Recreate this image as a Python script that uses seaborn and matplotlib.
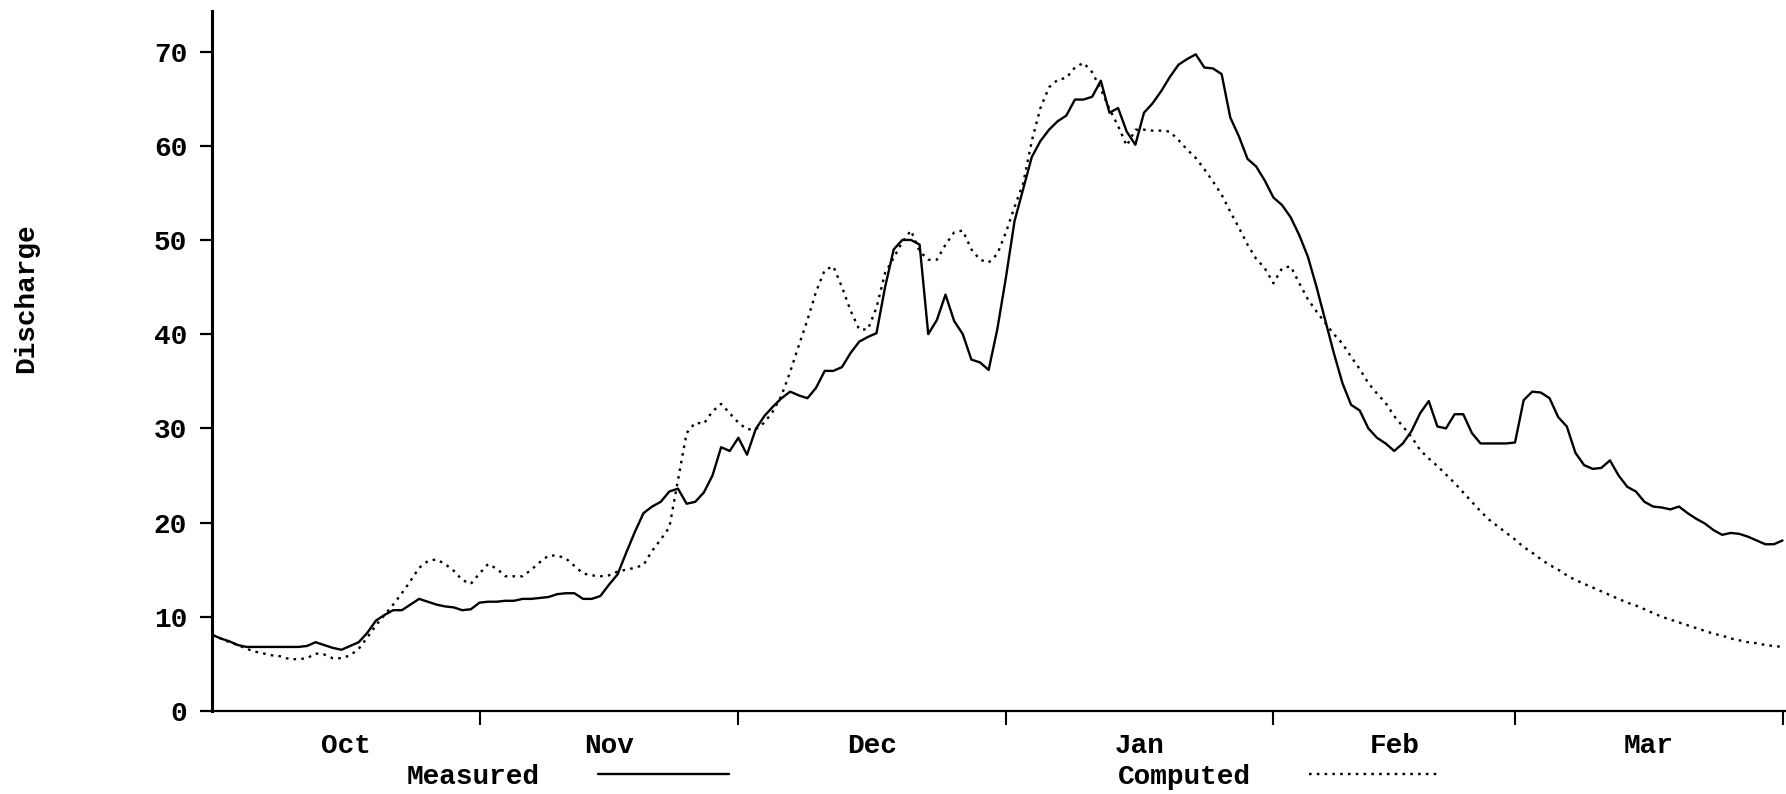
import numpy as np
import pandas as pd
import matplotlib
matplotlib.use("Agg")
import matplotlib.pyplot as plt
import matplotlib.dates as mdates
from matplotlib.ticker import FixedLocator, FixedFormatter, NullFormatter
import seaborn as sns

# ---------------- data ----------------
start_date = "2001-10-01"
month_labels = ["Oct", "Nov", "Dec", "Jan", "Feb", "Mar"]
y_ticks = [0, 10, 20, 30, 40, 50, 60, 70]

measured = [
    8.1, 7.7, 7.4, 7.0, 6.8, 6.8, 6.8, 6.8, 6.8, 6.8,
    6.8, 6.9, 7.3, 7.0, 6.7, 6.5, 6.9, 7.3, 8.3, 9.6,
    10.2, 10.7, 10.7, 11.3, 11.9, 11.6, 11.3, 11.1, 11.0, 10.7,
    10.8, 11.5, 11.6, 11.6, 11.7, 11.7, 11.9, 11.9, 12.0, 12.1,
    12.4, 12.5, 12.5, 11.9, 11.9, 12.2, 13.4, 14.5, 16.8, 19.0,
    21.0, 21.7, 22.2, 23.3, 23.6, 22.0, 22.2, 23.2, 25.0, 28.0,
    27.6, 29.0, 27.2, 29.9, 31.3, 32.3, 33.2, 33.9, 33.5, 33.2,
    34.3, 36.1, 36.1, 36.5, 38.0, 39.2, 39.7, 40.1, 45.0, 49.0,
    50.0, 50.0, 49.5, 40.0, 41.5, 44.2, 41.4, 40.0, 37.3, 37.0,
    36.2, 40.5, 46.0, 52.0, 55.4, 58.8, 60.5, 61.7, 62.6, 63.2,
    64.9, 64.9, 65.2, 66.9, 63.5, 64.0, 61.5, 60.1, 63.5, 64.5,
    65.8, 67.3, 68.6, 69.2, 69.7, 68.3, 68.2, 67.6, 63.0, 61.0,
    58.6, 57.8, 56.3, 54.5, 53.7, 52.4, 50.5, 48.2, 45.0, 41.5,
    38.0, 34.8, 32.5, 31.9, 30.0, 29.0, 28.4, 27.6, 28.4, 29.7,
    31.6, 32.9, 30.2, 30.0, 31.5, 31.5, 29.5, 28.4, 28.4, 28.4,
    28.4, 28.5, 33.0, 33.9, 33.8, 33.2, 31.2, 30.2, 27.4, 26.1,
    25.7, 25.8, 26.6, 25.0, 23.8, 23.3, 22.2, 21.7, 21.6, 21.4,
    21.7, 21.0, 20.4, 19.9, 19.2, 18.7, 18.9, 18.8, 18.5, 18.1,
    17.7, 17.7, 18.1,
]

computed = [
    8.1, 7.7, 7.3, 7.0, 6.6, 6.3, 6.1, 5.9, 5.8, 5.5,
    5.5, 5.6, 6.1, 6.0, 5.6, 5.6, 5.9, 6.6, 7.8, 9.1,
    10.2, 11.3, 12.5, 13.8, 15.2, 15.9, 16.1, 15.6, 14.9, 13.9,
    13.5, 14.6, 15.6, 15.1, 14.3, 14.3, 14.3, 15.0, 15.8, 16.5,
    16.5, 16.2, 15.4, 14.6, 14.4, 14.3, 14.4, 14.8, 15.0, 15.2,
    15.5, 17.0, 18.2, 19.5, 24.5, 29.5, 30.6, 30.5, 31.8, 32.6,
    31.6, 30.6, 29.9, 29.9, 30.6, 31.8, 33.5, 36.0, 38.8, 41.5,
    44.5, 46.8, 47.2, 45.0, 42.5, 40.5, 40.5, 42.8, 46.5, 48.1,
    49.8, 51.0, 48.8, 47.9, 47.9, 49.5, 50.8, 51.0, 49.0, 47.9,
    47.6, 48.5, 50.8, 53.5, 56.0, 60.5, 64.0, 66.2, 67.0, 67.2,
    68.3, 68.8, 67.8, 66.0, 63.9, 62.1, 60.0, 61.7, 61.7, 61.6,
    61.6, 61.5, 60.6, 59.6, 58.7, 57.5, 56.2, 54.8, 53.0, 51.3,
    49.5, 48.0, 47.0, 45.4, 47.0, 47.2, 45.4, 43.7, 42.4, 41.2,
    40.0, 39.0, 37.6, 36.3, 34.8, 33.7, 32.7, 31.3, 30.2, 29.1,
    27.7, 26.8, 26.0, 25.1, 24.2, 23.2, 22.2, 21.2, 20.3, 19.6,
    18.9, 18.2, 17.4, 16.8, 16.1, 15.5, 15.0, 14.4, 13.9, 13.5,
    13.1, 12.7, 12.3, 11.9, 11.5, 11.2, 10.8, 10.4, 10.0, 9.7,
    9.4, 9.1, 8.8, 8.5, 8.2, 8.0, 7.7, 7.5, 7.3, 7.2,
    7.0, 6.9, 6.8,
]

dates = pd.date_range(start_date, periods=len(measured), freq="D")
df = pd.DataFrame({"date": dates, "Measured": measured, "Computed": computed})

# ---------------- style ----------------
sns.set_style("ticks")
plt.rcParams["font.family"] = ["Liberation Mono", "DejaVu Sans Mono"]
plt.rcParams["font.weight"] = "bold"
plt.rcParams["text.color"] = "black"
FS = 20

fig = plt.figure(figsize=(17.86, 7.94), dpi=100)
fig.patch.set_facecolor("white")
ax = fig.add_axes([212 / 1786, 83 / 794, 1574 / 1786, 700 / 794])
ax.set_facecolor("white")

sns.lineplot(data=df, x="date", y="Measured", ax=ax, color="black",
             linewidth=1.7, label="Measured", legend=False)
sns.lineplot(data=df, x="date", y="Computed", ax=ax, color="black",
             linewidth=1.7, linestyle=(0, (1.1, 2.2)), label="Computed",
             legend=False)

# axes limits
t0 = pd.Timestamp(start_date)
ax.set_xlim(t0, t0 + pd.Timedelta(days=182.4))
ax.set_ylim(0, 74.3)

# spines
sns.despine(ax=ax, top=True, right=True)
ax.spines["left"].set_linewidth(2.2)
ax.spines["bottom"].set_linewidth(1.6)
ax.spines["left"].set_color("black")
ax.spines["bottom"].set_color("black")

# x ticks: boundaries (no labels) + centred month names
month_starts = pd.date_range(start_date, periods=len(month_labels) + 1, freq="MS")
starts_num = mdates.date2num(month_starts)
centers = (starts_num[:-1] + starts_num[1:]) / 2.0
ax.xaxis.set_major_locator(FixedLocator(starts_num[1:]))
ax.xaxis.set_major_formatter(NullFormatter())
ax.xaxis.set_minor_locator(FixedLocator(centers))
ax.xaxis.set_minor_formatter(FixedFormatter(month_labels))
ax.tick_params(axis="x", which="major", length=10, width=1.5,
               direction="out", color="black")
ax.tick_params(axis="x", which="minor", length=0, pad=16, labelsize=FS,
               labelcolor="black")

ax.set_yticks(y_ticks)
ax.set_yticklabels([str(v) for v in y_ticks])
ax.tick_params(axis="y", which="major", length=9, width=1.6,
               direction="out", pad=9, labelsize=FS, color="black",
               labelcolor="black")

ax.set_xlabel("")
ax.set_ylabel("Discharge", fontsize=FS, fontweight="bold", color="black")
ax.yaxis.set_label_coords(-0.110, 0.59)

# legend below the axis
handles = ax.get_lines()[:2]
leg = ax.legend(handles=handles, labels=["Measured", "Computed"], ncol=2,
                markerfirst=False, frameon=False, loc="center left",
                bbox_to_anchor=(407 / 1786, 17 / 794),
                bbox_transform=fig.transFigure, borderaxespad=0,
                borderpad=0, handlelength=4.7, handletextpad=2.1,
                columnspacing=14.0, fontsize=FS)
for t in leg.get_texts():
    t.set_fontweight("bold")
    t.set_color("black")

fig.savefig("out.png", dpi=100, facecolor="white")
